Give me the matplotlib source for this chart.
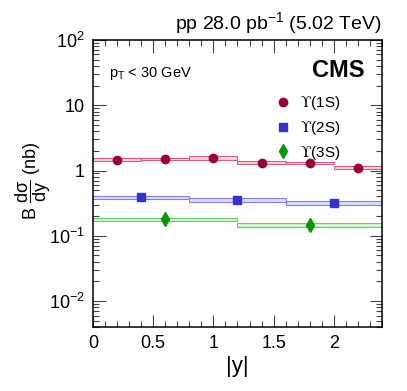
import matplotlib.pyplot as plt
from matplotlib.patches import Rectangle
from matplotlib.ticker import LogLocator, MultipleLocator, FixedLocator, NullFormatter

plt.rcParams['font.family'] = ['Liberation Sans', 'DejaVu Sans']
plt.rcParams['mathtext.fontset'] = 'custom'
plt.rcParams['mathtext.rm'] = 'Liberation Sans'
plt.rcParams['mathtext.it'] = 'Liberation Sans'
plt.rcParams['mathtext.cal'] = 'DejaVu Serif'

# Upsilon(1S): bins of 0.4 in |y|
y1_edges = [0.0, 0.4, 0.8, 1.2, 1.6, 2.0, 2.4]
y1_val = [1.47, 1.51, 1.56, 1.32, 1.29, 1.11]
y1_sys = [0.06, 0.05, 0.12, 0.06, 0.05, 0.05]

# Upsilon(2S): bins of 0.8
y2_edges = [0.0, 0.8, 1.6, 2.4]
y2_val = [0.39, 0.352, 0.321]
y2_sys = [0.022, 0.028, 0.022]

# Upsilon(3S): bins of 1.2
y3_edges = [0.0, 1.2, 2.4]
y3_val = [0.180, 0.146]
y3_sys = [0.010, 0.010]

series = [
    (y1_edges, y1_val, y1_sys, 'o', '#990033', '#fad2dc', '#d0607f', '$\\mathcal{\u03d2}$(1S)', 6),
    (y2_edges, y2_val, y2_sys, 's', '#3333cc', '#dcdcfa', '#8080e6', '$\\mathcal{\u03d2}$(2S)', 6),
    (y3_edges, y3_val, y3_sys, 'd', '#009900', '#d6f5d6', '#66c866', '$\\mathcal{\u03d2}$(3S)', 7.5),
]

fig = plt.figure(figsize=(4.07, 3.91), dpi=100)
ax = fig.add_axes([0.2285, 0.1637, 0.71, 0.734])

for edges, vals, sys, mk, col, fill, edge, lab, ms in series:
    centers = []
    for i, v in enumerate(vals):
        lo, hi = edges[i], edges[i + 1]
        ax.add_patch(Rectangle((lo, v - sys[i]), hi - lo, 2 * sys[i],
                               facecolor=fill, edgecolor=edge, lw=0.8, zorder=2))
        centers.append((lo + hi) / 2)
    ax.plot(centers, vals, mk, color=col, ms=ms, zorder=3, label=lab)

ax.set_yscale('log')
ax.set_xlim(0, 2.4)
ax.set_ylim(4e-3, 100)

ax.xaxis.set_major_locator(FixedLocator([0, 0.5, 1, 1.5, 2]))
ax.xaxis.set_minor_locator(MultipleLocator(0.1))
ax.set_xticklabels(['0', '0.5', '1', '1.5', '2'])
ax.yaxis.set_major_locator(LogLocator(base=10))
ax.yaxis.set_minor_locator(LogLocator(base=10, subs=range(2, 10)))
ax.yaxis.set_minor_formatter(NullFormatter())
ax.set_yticks([1e-2, 1e-1, 1, 10, 100])
ax.set_yticklabels([r'$10^{-2}$', r'$10^{-1}$', '1', '10', r'$10^{2}$'])

ax.tick_params(which='both', direction='in', top=True, right=True, labelsize=13,
               colors='#444444', labelcolor='black')
ax.tick_params(which='major', length=9, width=0.8, pad=6)
ax.tick_params(which='minor', length=4.5, width=0.8)
for s in ax.spines.values():
    s.set_linewidth(1.1)

ax.set_xlabel('|y|', fontsize=16)
ax.xaxis.set_label_coords(0.498, -0.10)
ax.set_ylabel(r'B $\dfrac{d\sigma}{dy}$ (nb)', fontsize=13)
ax.yaxis.set_label_coords(-0.14, 0.51)

ax.text(1.0, 1.015, r'pp 28.0 pb$^{-1}$ (5.02 TeV)', transform=ax.transAxes,
        ha='right', va='bottom', fontsize=14)
ax.text(0.055, 0.885, r'p$_{T}$ < 30 GeV', transform=ax.transAxes,
        ha='left', va='center', fontsize=10.5)
ax.text(0.94, 0.895, 'CMS', transform=ax.transAxes, ha='right', va='center',
        fontsize=17, fontweight='bold')

ax.legend(loc='upper left', bbox_to_anchor=(0.585, 0.833), frameon=False,
          fontsize=11, handletextpad=0.1, labelspacing=0.45, borderaxespad=0)

fig.savefig('out.png', dpi=100)
